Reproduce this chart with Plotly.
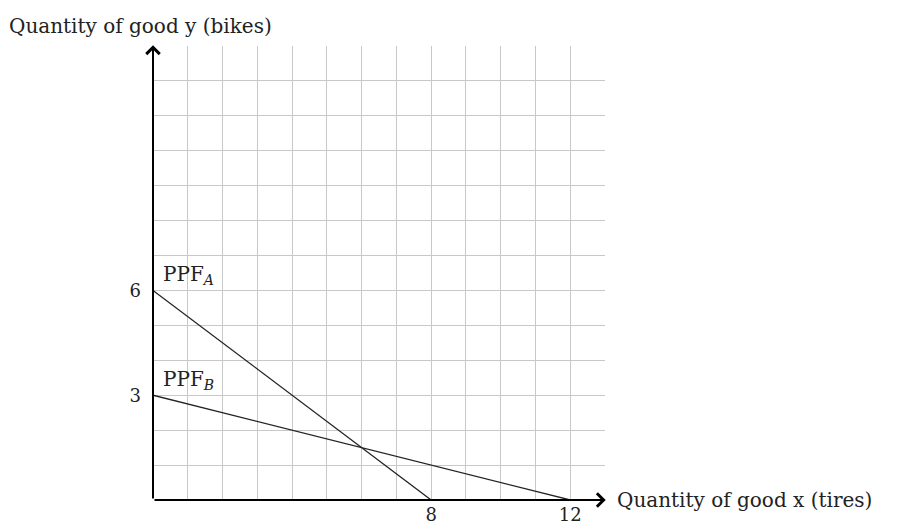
import plotly.graph_objects as go

# Data
ppf_a_x = [0, 8]
ppf_a_y = [6, 0]
ppf_b_x = [0, 12]
ppf_b_y = [3, 0]
grid_max = 13
x_tick_vals = list(range(0, 14))
x_tick_text = ["" if v not in (8, 12) else str(v) for v in x_tick_vals]
y_tick_vals = list(range(0, 14))
y_tick_text = ["" if v not in (3, 6) else str(v) for v in y_tick_vals]
x_title = "Quantity of good x (tires)"
y_title = "Quantity of good y (bikes)"
label_a = "PPF<sub><i>A</i></sub>"
label_b = "PPF<sub><i>B</i></sub>"

FONT = "DejaVu Serif"
FS = 20
TICK_FS = 18
INK = "#222222"

fig = go.Figure()
fig.add_trace(go.Scatter(x=ppf_a_x, y=ppf_a_y, mode="lines",
                         line=dict(color=INK, width=1.3), showlegend=False, hoverinfo="skip"))
fig.add_trace(go.Scatter(x=ppf_b_x, y=ppf_b_y, mode="lines",
                         line=dict(color=INK, width=1.3), showlegend=False, hoverinfo="skip"))

# axis arrows
fig.add_annotation(x=grid_max + 0.02, y=0, ax=0, ay=0, xref="x", yref="y", axref="x", ayref="y",
                   showarrow=True, arrowhead=4, arrowsize=1.3, arrowwidth=2, arrowcolor="black", text="")
fig.add_annotation(x=0, y=grid_max + 0.02, ax=0, ay=0, xref="x", yref="y", axref="x", ayref="y",
                   showarrow=True, arrowhead=4, arrowsize=1.3, arrowwidth=2, arrowcolor="black", text="")

# labels
fig.add_annotation(x=ppf_a_x[0], y=ppf_a_y[0], text=label_a, showarrow=False,
                   xanchor="left", yanchor="bottom", xshift=8, yshift=0,
                   font=dict(family=FONT, size=FS, color=INK))
fig.add_annotation(x=ppf_b_x[0], y=ppf_b_y[0], text=label_b, showarrow=False,
                   xanchor="left", yanchor="bottom", xshift=8, yshift=0,
                   font=dict(family=FONT, size=FS, color=INK))
fig.add_annotation(x=grid_max, y=0, text=x_title, showarrow=False,
                   xanchor="left", yanchor="middle", xshift=10,
                   font=dict(family=FONT, size=FS, color=INK))
fig.add_annotation(x=0, y=1, xref="paper", yref="paper", text=y_title, showarrow=False,
                   xanchor="left", yanchor="bottom", xshift=-146, yshift=6,
                   font=dict(family=FONT, size=FS, color=INK))

axis_common = dict(showgrid=True, gridcolor="#c8c8c8", gridwidth=1, zeroline=False,
                   showline=False, ticks="", tickfont=dict(family=FONT, size=TICK_FS, color=INK),
                   fixedrange=True, automargin=False)
fig.update_xaxes(range=[0, grid_max], tickmode="array", tickvals=x_tick_vals,
                 ticktext=x_tick_text, ticklabelstandoff=2, **axis_common)
fig.update_yaxes(range=[0, grid_max], tickmode="array", tickvals=y_tick_vals,
                 ticktext=y_tick_text, ticklabelstandoff=11, **axis_common)

# page body has an 8px margin, so the figure is sized/offset to compensate
fig.update_layout(
    width=890, height=519,
    margin=dict(l=145, r=293, t=38, b=27),
    plot_bgcolor="white", paper_bgcolor="white",
    font=dict(family=FONT, size=FS, color=INK),
)
fig.write_html("out.html")
